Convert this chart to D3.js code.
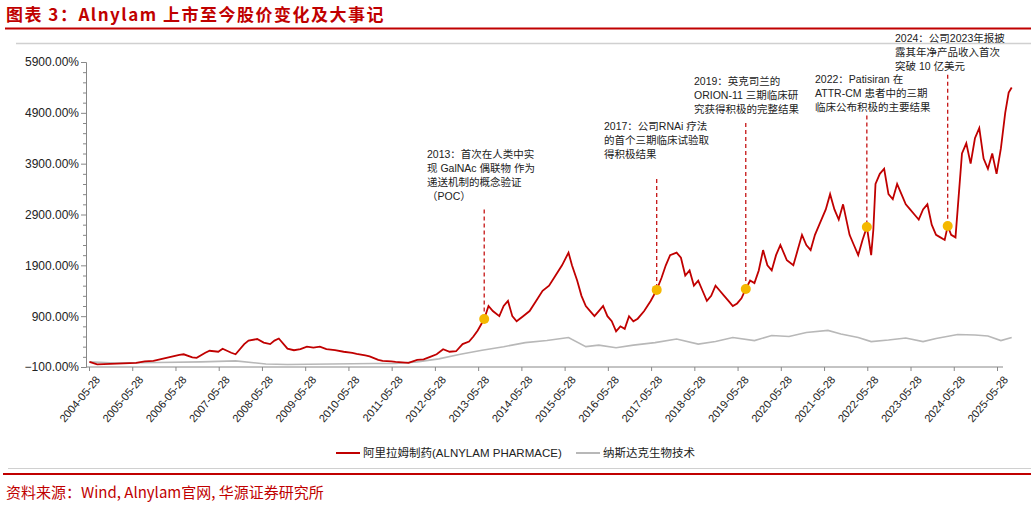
<!DOCTYPE html>
<html><head><meta charset="utf-8">
<script src="https://cdn.jsdelivr.net/npm/d3@7"></script>
<style>
body{margin:0;background:#fff;font-family:"Liberation Sans",Arial,"Noto Sans CJK SC",sans-serif;}
</style></head>
<body><svg id="c" width="1031" height="507"></svg>
<script>
// decimal year, % change since listing
const redX = [2004.42,2004.6,2004.9,2005.2,2005.5,2005.7,2005.9,2006.1,2006.3,2006.5,2006.6,2006.8,2006.9,2007.1,2007.2,2007.4,2007.5,2007.7,2007.8,2008.0,2008.1,2008.3,2008.45,2008.6,2008.7,2008.8,2009.0,2009.15,2009.3,2009.45,2009.6,2009.75,2009.9,2010.1,2010.3,2010.5,2010.6,2010.8,2010.9,2011.1,2011.2,2011.4,2011.5,2011.65,2011.8,2012.0,2012.15,2012.3,2012.45,2012.6,2012.75,2012.9,2013.05,2013.2,2013.3,2013.4,2013.55,2013.65,2013.75,2013.9,2014.0,2014.1,2014.2,2014.3,2014.45,2014.6,2014.75,2014.9,2015.05,2015.2,2015.35,2015.5,2015.58,2015.7,2015.8,2015.9,2016.0,2016.1,2016.2,2016.3,2016.4,2016.5,2016.6,2016.7,2016.8,2016.9,2017.0,2017.1,2017.25,2017.4,2017.54,2017.65,2017.75,2017.85,2018.0,2018.1,2018.2,2018.3,2018.4,2018.5,2018.6,2018.7,2018.8,2018.9,2019.0,2019.1,2019.2,2019.3,2019.4,2019.5,2019.6,2019.7,2019.8,2019.9,2020.0,2020.1,2020.2,2020.3,2020.4,2020.55,2020.7,2020.8,2020.9,2021.0,2021.1,2021.2,2021.3,2021.45,2021.55,2021.65,2021.75,2021.85,2022.0,2022.1,2022.2,2022.3,2022.4,2022.5,2022.55,2022.6,2022.7,2022.8,2022.9,2023.0,2023.1,2023.2,2023.3,2023.4,2023.5,2023.6,2023.7,2023.8,2023.9,2024.0,2024.1,2024.2,2024.27,2024.35,2024.45,2024.5,2024.6,2024.7,2024.8,2024.9,2025.0,2025.1,2025.2,2025.3,2025.4,2025.5,2025.6,2025.68,2025.75];
const redY = [0,-50,-40,-30,-20,10,20,60,100,140,150,90,80,180,220,200,260,180,150,350,420,450,380,350,420,460,260,230,250,300,280,300,250,230,200,180,160,130,110,40,20,10,0,-10,-20,40,50,100,150,250,200,210,350,400,500,620,843,1100,1000,900,1100,1200,900,800,900,1000,1200,1400,1500,1700,1900,2150,1900,1600,1300,1100,1000,900,1000,1100,900,800,600,700,650,900,800,850,1000,1200,1417,1650,1900,2100,2150,2050,1700,1800,1500,1600,1400,1200,1300,1500,1400,1300,1200,1100,1150,1250,1435,1600,1550,1800,2200,1900,1800,2100,2300,2000,1900,2200,2500,2300,2200,2500,2700,3000,3300,3000,2800,3100,2500,2300,2100,2400,2654,2100,2600,3500,3700,3800,3300,3200,3500,3300,3100,3000,2900,2800,3000,3100,2700,2500,2450,2400,2674,2500,2450,3000,4100,4300,3900,4400,4600,4000,3800,4100,3700,4200,4900,5300,5400,5100];
const grayX = [2004.42,2005.0,2006.0,2007.0,2007.8,2008.5,2009.0,2010.0,2011.0,2011.5,2012.0,2012.5,2013.0,2013.5,2014.0,2014.5,2015.0,2015.5,2015.9,2016.2,2016.6,2017.0,2017.5,2018.0,2018.5,2018.9,2019.3,2019.8,2020.2,2020.6,2021.0,2021.5,2021.8,2022.2,2022.5,2022.9,2023.3,2023.7,2024.0,2024.5,2024.9,2025.2,2025.5,2025.75];
const grayY = [0,-20,-10,0,20,-40,-50,-40,-30,-30,0,60,150,230,300,380,420,480,300,330,280,330,380,450,350,400,480,420,520,500,580,620,550,480,400,430,470,400,460,540,530,510,420,480];
const tickYears = d3.range(2004,2026);
const yTicks = [-100,900,1900,2900,3900,4900,5900];
const events = [
  {x:2013.55,y:843,top:3000,tx:427,ty:158,lines:["2013：首次在人类中实","现 GalNAc 偶联物 作为","递送机制的概念验证","（POC）"]},
  {x:2017.54,y:1417,top:3600,tx:604,ty:130,lines:["2017：公司RNAi 疗法","的首个三期临床试验取","得积极结果"]},
  {x:2019.6,y:1435,top:4700,tx:694,ty:85,lines:["2019：英克司兰的","ORION-11 三期临床研","究获得积极的完整结果"]},
  {x:2022.4,y:2654,top:4850,tx:815,ty:83,lines:["2022：Patisiran 在","ATTR-CM 患者中的三期","临床公布积极的主要结果"]},
  {x:2024.27,y:2674,top:5650,tx:895,ty:42,lines:["2024：公司2023年报披","露其年净产品收入首次","突破 10 亿美元"]}
];

const svg = d3.select('#c');
const x = d3.scaleLinear().domain([2004.41,2025.41]).range([89,997]);
const y = d3.scaleLinear().domain([-100,5900]).range([367,62]);

// frame lines
svg.append('text').attr('x',6).attr('y',21).attr('fill','#c00000').attr('font-size',17).attr('font-weight','bold')
  .attr('font-family','"Noto Sans CJK SC",sans-serif').attr('letter-spacing',1.5).text('图表 3：Alnylam 上市至今股价变化及大事记');
svg.append('line').attr('x1',5).attr('x2',1031).attr('y1',28.5).attr('y2',28.5).attr('stroke','#c00000').attr('stroke-width',2);
svg.append('line').attr('x1',16).attr('x2',1031).attr('y1',43.5).attr('y2',43.5).attr('stroke','#d0d0d0').attr('stroke-width',1.5);
svg.append('line').attr('x1',8).attr('x2',1031).attr('y1',468.5).attr('y2',468.5).attr('stroke','#d0d0d0');
svg.append('line').attr('x1',3).attr('x2',1031).attr('y1',474).attr('y2',474).attr('stroke','#c00000').attr('stroke-width',2);
svg.append('text').attr('x',6).attr('y',498).attr('fill','#c00000').attr('font-size',15)
  .attr('font-family','"Noto Sans CJK SC",serif').text('资料来源：Wind, Alnylam官网, 华源证券研究所');

// y axis
const yAxis = svg.append('g').attr('transform','translate(86,0)')
  .call(d3.axisLeft(y).tickValues(d3.range(-100,5901,200)).tickSize(4).tickFormat(d => yTicks.includes(d) ? d3.format('.2f')(d)+'%' : ''));
yAxis.selectAll('.tick line').attr('stroke','#888').attr('x2',d => yTicks.includes(d) ? -5 : -3);
yAxis.select('.domain').attr('stroke','#888');
yAxis.selectAll('text').attr('font-size',12).attr('fill','#222').attr('font-family','"Liberation Sans",Arial');

// x axis
const xAxis = svg.append('g').attr('transform','translate(0,367)')
  .call(d3.axisBottom(x).tickValues(tickYears.map(t => t+0.41)).tickSize(4).tickFormat((d,i) => tickYears[i]+'-05-28'));
xAxis.select('.domain').attr('stroke','#888').attr('d','M86,0H1003');
xAxis.selectAll('.tick line').attr('stroke','#888');
xAxis.selectAll('text').attr('font-size',11).attr('fill','#222').attr('font-family','"Liberation Sans",Arial')
  .attr('text-anchor','end').attr('transform','translate(3,6) rotate(-50)').attr('dy','0.35em').attr('dx','0');

const line = d3.line().x(d => x(d[0])).y(d => y(d[1]));
svg.append('path').datum(d3.zip(grayX,grayY)).attr('d',line).attr('fill','none').attr('stroke','#b8b8b8').attr('stroke-width',1.6);
svg.append('path').datum(d3.zip(redX,redY)).attr('d',line).attr('fill','none').attr('stroke','#c00000').attr('stroke-width',1.8);

// events
events.forEach(e => {
  svg.append('line').attr('x1',x(e.x)).attr('x2',x(e.x)).attr('y1',y(e.top)).attr('y2',y(e.y))
    .attr('stroke','#c00000').attr('stroke-width',1.2).attr('stroke-dasharray','4,3');
  svg.append('circle').attr('cx',x(e.x)).attr('cy',y(e.y)).attr('r',5).attr('fill','#f5b800');
  const t = svg.append('text').attr('x',e.tx).attr('y',e.ty).attr('font-size',10.5).attr('fill','#222');
  e.lines.forEach((l,i) => t.append('tspan').attr('x',e.tx).attr('dy',i ? 14 : 0).text(l));
});

// legend
const lg = svg.append('g').attr('transform','translate(336,453)');
lg.append('line').attr('x1',0).attr('x2',24).attr('stroke','#c00000').attr('stroke-width',2);
lg.append('text').attr('x',27).attr('y',4).attr('font-size',11.5).attr('fill','#222').text('阿里拉姆制药(ALNYLAM PHARMACE)');
lg.append('line').attr('x1',240).attr('x2',264).attr('stroke','#b8b8b8').attr('stroke-width',2);
lg.append('text').attr('x',267).attr('y',4).attr('font-size',11.5).attr('fill','#222').text('纳斯达克生物技术');
</script></body></html>
